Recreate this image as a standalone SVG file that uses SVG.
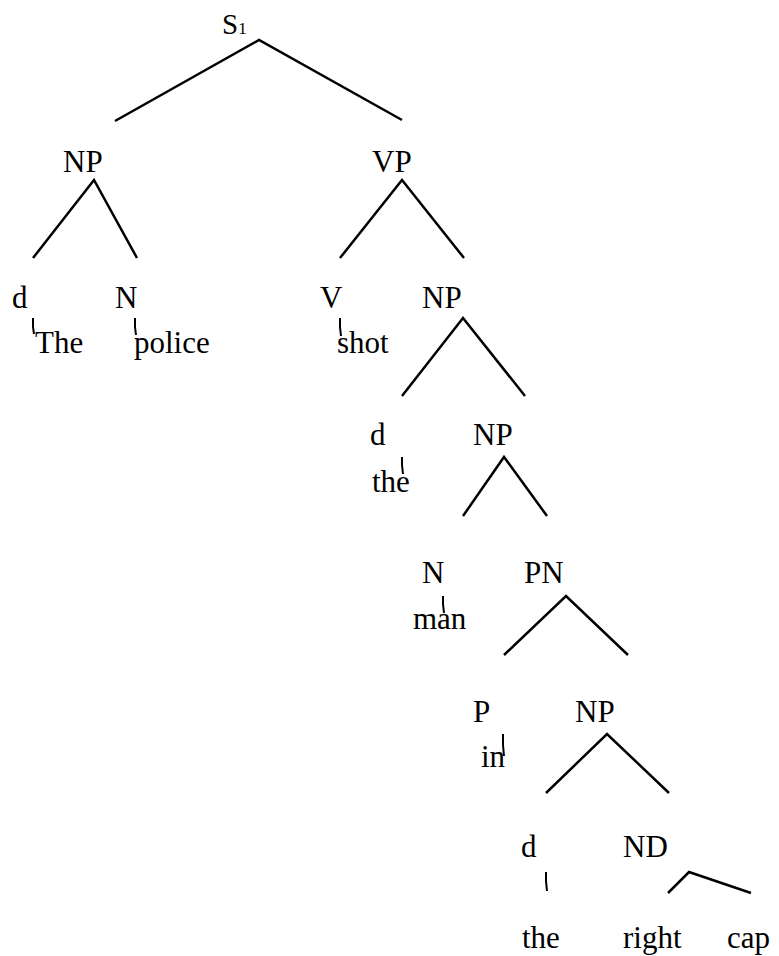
<svg xmlns="http://www.w3.org/2000/svg" width="779" height="956" viewBox="0 0 779 956">
<style>
text{font-family:'Liberation Serif','Tinos','Times New Roman','DejaVu Serif',serif;font-size:31px;fill:#000}
.e{stroke:#000;stroke-width:2.5;fill:none;stroke-linecap:butt}
.t{stroke:#000;stroke-width:2;fill:none}
</style>
<rect width="779" height="956" fill="#fff"/>
<g id="connectors">
<polyline class="e" points="115,121 259,40 402,120"/>
<polyline class="e" points="33,258 94,180 137,258"/>
<polyline class="e" points="340,258 402,180 464,258"/>
<polyline class="e" points="402,396 463,318 525,396"/>
<polyline class="e" points="463,516 504,457 547,516"/>
<polyline class="e" points="504,655 566,596 628,655"/>
<polyline class="e" points="546,793 607,734 669,793"/>
<polyline class="e" points="668,893 689,872 751,893"/>
<path class="t" d="M33,318 L33,327 L34,334"/>
<path class="t" d="M135,318 L135,327 L136,335"/>
<path class="t" d="M340,318 L340,327 L341,336"/>
<path class="t" d="M402,457 L402,465 L403,474"/>
<path class="t" d="M443,596 L443,604 L444,613"/>
<path class="t" d="M503,734 L503,745 L504,756"/>
<path class="t" d="M546,872 L546,881 L547,891"/>
</g>
<g id="S1"><text x="222" y="34" style="font-size:29px">S<tspan style="font-size:17px">1</tspan></text></g>
<g id="NP1"><text x="63" y="172">NP</text></g>
<g id="VP"><text x="372" y="172">VP</text></g>
<g id="d1"><text x="12" y="308">d</text></g>
<g id="N1"><text x="115" y="308">N</text></g>
<g id="The"><text x="35" y="353">The</text></g>
<g id="police"><text x="134" y="353">police</text></g>
<g id="V"><text x="320" y="308">V</text></g>
<g id="shot"><text x="337" y="353">shot</text></g>
<g id="NP2"><text x="422" y="308">NP</text></g>
<g id="d2"><text x="370" y="445">d</text></g>
<g id="the1"><text x="372" y="492">the</text></g>
<g id="NP3"><text x="473" y="445">NP</text></g>
<g id="N2"><text x="422" y="583">N</text></g>
<g id="man"><text x="413" y="629">man</text></g>
<g id="PN"><text x="524" y="583">PN</text></g>
<g id="P"><text x="473" y="722">P</text></g>
<g id="in"><text x="481" y="767">in</text></g>
<g id="NP4"><text x="575" y="722">NP</text></g>
<g id="d3"><text x="521" y="857">d</text></g>
<g id="ND"><text x="623" y="857">ND</text></g>
<g id="the2"><text x="522" y="948">the</text></g>
<g id="right"><text x="623" y="948">right</text></g>
<g id="cap"><text x="727" y="948">cap</text></g>
</svg>
